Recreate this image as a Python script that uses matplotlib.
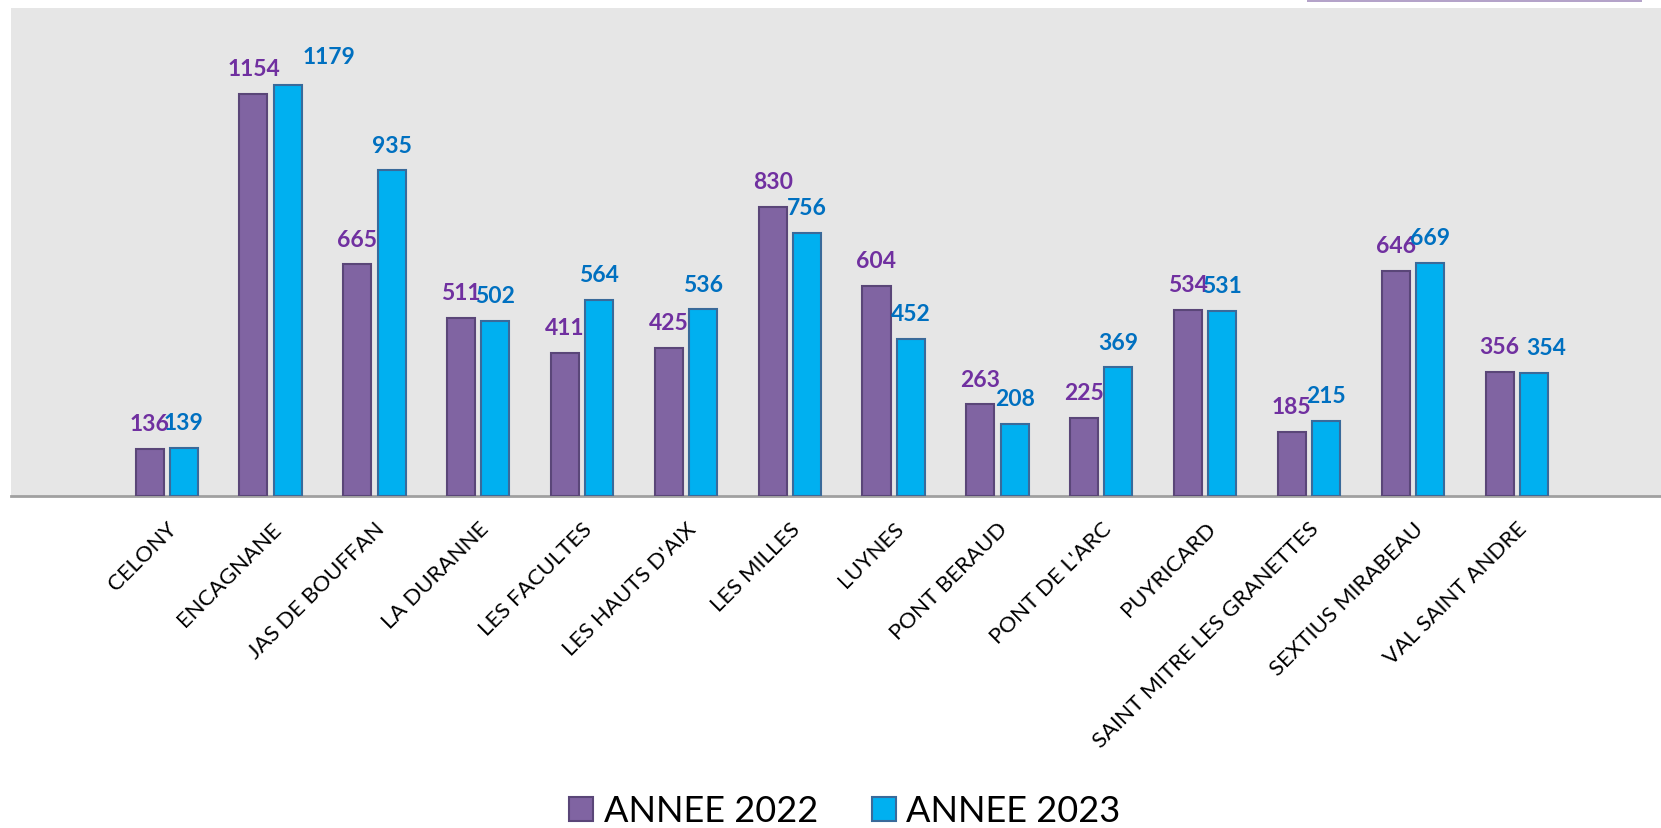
import matplotlib
matplotlib.use("Agg")
import matplotlib.pyplot as plt
from matplotlib.patches import Rectangle
import numpy as np

categories = ["CELONY", "ENCAGNANE", "JAS DE BOUFFAN", "LA DURANNE", "LES FACULTES",
              "LES HAUTS D'AIX", "LES MILLES", "LUYNES", "PONT BERAUD", "PONT DE L'ARC",
              "PUYRICARD", "SAINT MITRE LES GRANETTES", "SEXTIUS MIRABEAU", "VAL SAINT ANDRE"]
values_2022 = [136, 1154, 665, 511, 411, 425, 830, 604, 263, 225, 534, 185, 646, 356]
values_2023 = [139, 1179, 935, 502, 564, 536, 756, 452, 208, 369, 531, 215, 669, 354]
series_names = ["ANNEE 2022", "ANNEE 2023"]

plt.rcParams['font.family'] = ['Lato', 'DejaVu Sans']

W, H = 1661, 829
fig = plt.figure(figsize=(W / 100, H / 100), dpi=100)
ax = fig.add_axes([11 / W, (H - 497) / H, (W - 11) / W, (497 - 9) / H])
ax.set_facecolor('#e6e6e6')

x = np.arange(len(categories))
bw = 0.27
off = 0.165
b1 = ax.bar(x - off, values_2022, bw, color='#8064a2', edgecolor='#5a4678', linewidth=1.5,
            label=series_names[0], zorder=3)
b2 = ax.bar(x + off, values_2023, bw, color='#00b0f0', edgecolor='#3a6a9a', linewidth=1.5,
            label=series_names[1], zorder=3)

for xi, v in zip(x - off, values_2022):
    ax.annotate(str(v), (xi, v), xytext=(0, 13.5), textcoords='offset points',
                ha='center', va='baseline', fontsize=16.5, fontweight='bold', color='#7030a0', zorder=5)
label_shift_2023 = {1: (29.5, 15.8), 13: (9, 13.5)}
for i, (xi, v) in enumerate(zip(x + off, values_2023)):
    dx, dy = label_shift_2023.get(i, (0, 13.5))
    ax.annotate(str(v), (xi, v), xytext=(dx, dy), textcoords='offset points',
                ha='center', va='baseline', fontsize=16.5, fontweight='bold', color='#0070c0', zorder=6)

ax.set_xlim(-1.5, 14.39)
ax.set_ylim(0, 1401)
for s in ['top', 'right', 'left']:
    ax.spines[s].set_visible(False)
ax.spines['bottom'].set_color('#a0a0a0')
ax.spines['bottom'].set_linewidth(2)
ax.set_yticks([])
ax.set_xticks(x)
ax.set_xticklabels(categories, rotation=45, ha='right', rotation_mode='anchor', fontsize=16)
ax.tick_params(axis='x', length=0, pad=16)

leg = fig.legend(handles=[b1, b2], labels=series_names, loc='center', bbox_to_anchor=(845 / W, 1 - 812 / H),
                 ncol=2, frameon=False, fontsize=26, handlelength=0.65, handleheight=0.65,
                 handletextpad=0.3, columnspacing=1.5)

fig.add_artist(Rectangle((1307 / W, 1 - 2.5 / H), (1642 - 1307) / W, 2.5 / H,
                         transform=fig.transFigure, facecolor='#b4a3c9', edgecolor='none'))

fig.savefig('out.png', dpi=100, facecolor='white')
